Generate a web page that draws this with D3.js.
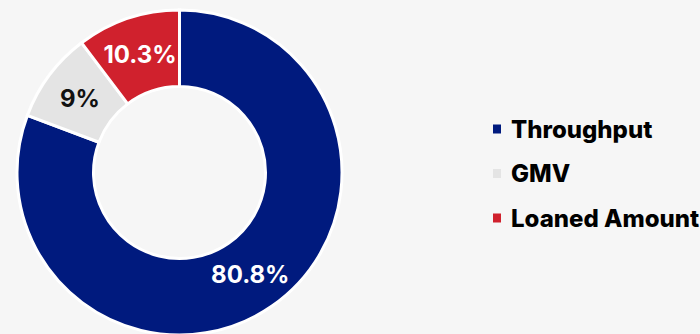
<!DOCTYPE html>
<html><head><meta charset="utf-8">
<script src="https://cdn.jsdelivr.net/npm/d3@7"></script>
<style>
html,body{margin:0;padding:0;background:#f6f6f6;}
svg{display:block;font-family:Inter,"Noto Sans",sans-serif;}
</style></head>
<body><svg id="c" width="700" height="334"></svg>
<script>
const categories = ["Throughput", "GMV", "Loaned Amount"];
const values = [80.8, 9, 10.3];
const labels = ["80.8%", "9%", "10.3%"];
const colors = ["#001a7e", "#e4e4e4", "#d0212d"];
const labelColors = ["#ffffff", "#111111", "#ffffff"];

const svg = d3.select("#c");
const cx = 179.5, cy = 172.5, R = 162.5, r = 86;
const data = categories.map((c, i) => ({ name: c, value: values[i], label: labels[i], color: colors[i], lc: labelColors[i] }));
const pie = d3.pie().sort(null).value(d => d.value);
const arc = d3.arc().innerRadius(r).outerRadius(R);
const g = svg.append("g").attr("transform", `translate(${cx},${cy})`);
const arcs = pie(data);
g.selectAll("path").data(arcs).join("path")
  .attr("d", arc).attr("fill", d => d.data.color)
  .attr("stroke", "#ffffff").attr("stroke-width", 3).attr("stroke-linejoin", "miter");
g.selectAll("text").data(arcs).join("text")
  .attr("transform", d => `translate(${arc.centroid(d)})`)
  .attr("text-anchor", "middle").attr("dy", "0.36em")
  .attr("font-size", 24).attr("font-weight", 700)
  .attr("fill", d => d.data.lc).text(d => d.data.label);

const legend = svg.append("g").attr("transform", "translate(493,0)");
const ly = d3.scalePoint().domain(categories).range([129, 218]);
const items = legend.selectAll("g").data(data).join("g")
  .attr("transform", d => `translate(0,${ly(d.name)})`);
items.append("rect").attr("x", 0).attr("y", -4.5).attr("width", 8).attr("height", 9).attr("fill", d => d.color);
items.append("text").attr("x", 18).attr("dy", "0.36em")
  .attr("font-size", 24).attr("font-weight", 800).attr("fill", "#000000").text(d => d.name);
</script></body></html>
